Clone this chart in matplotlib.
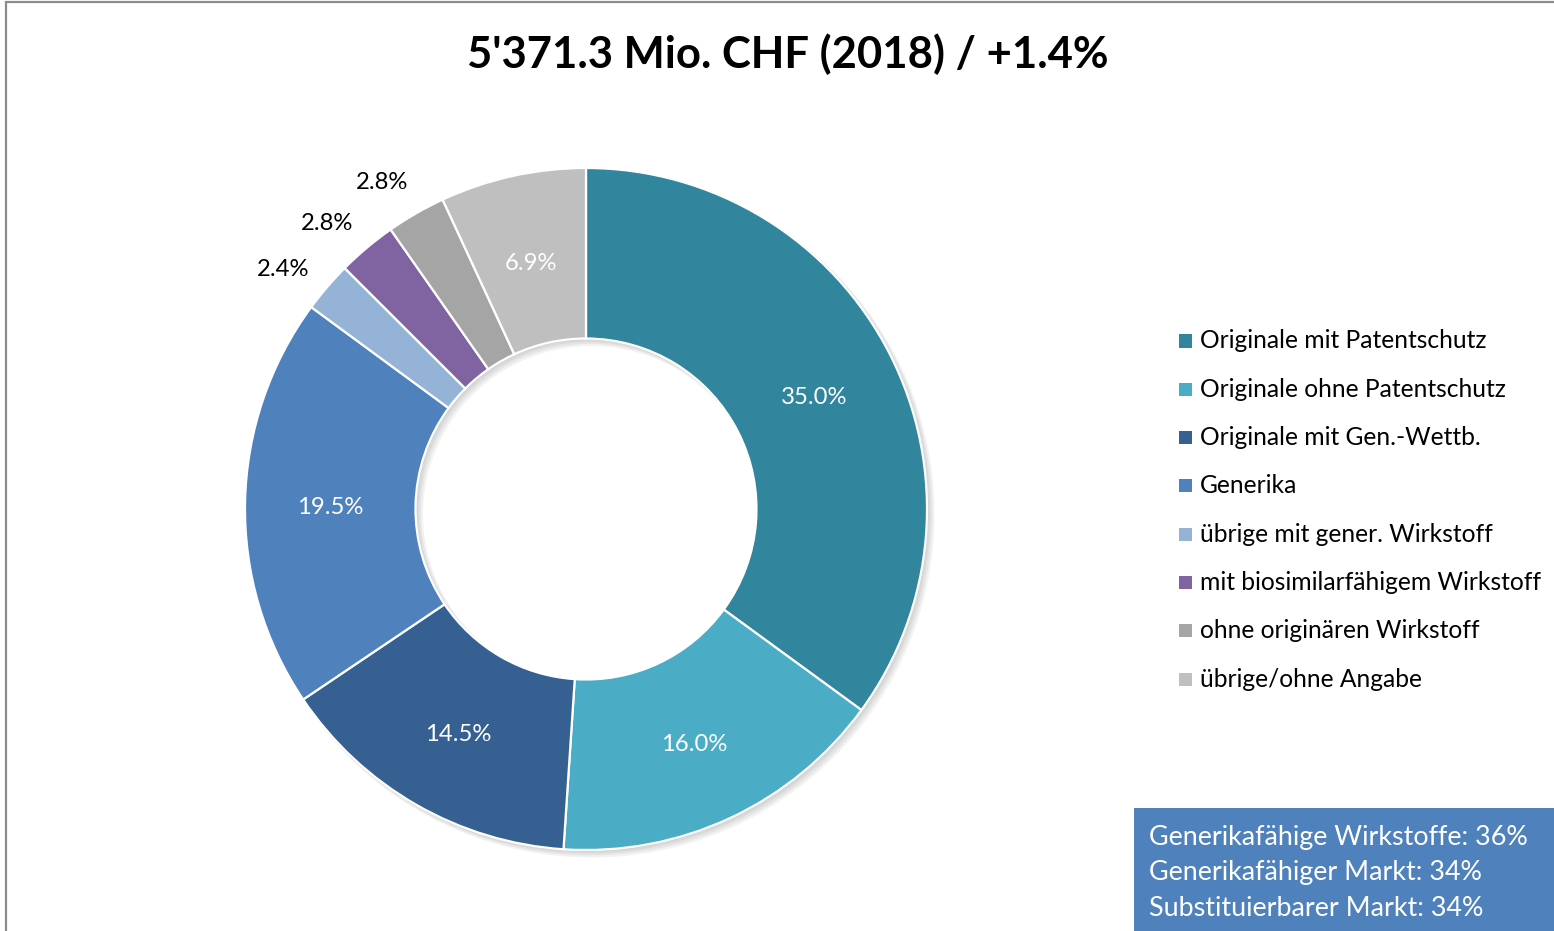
import matplotlib
matplotlib.use("Agg")
import matplotlib.pyplot as plt
from matplotlib.patches import Wedge, Rectangle
import matplotlib.transforms as mtransforms
import numpy as np

categories = ["Originale mit Patentschutz", "Originale ohne Patentschutz",
              "Originale mit Gen.-Wettb.", "Generika", "übrige mit gener. Wirkstoff",
              "mit biosimilarfähigem Wirkstoff", "ohne originären Wirkstoff",
              "übrige/ohne Angabe"]
shares = [35.0, 16.0, 14.5, 19.5, 2.4, 2.8, 2.8, 6.9]
colors = ["#31859C", "#4BACC6", "#366092", "#4F81BD", "#95B3D7", "#8064A2",
          "#A5A5A5", "#BFBFBF"]
outside = [False, False, False, False, True, True, True, False]
title = "5'371.3 Mio. CHF (2018) / +1.4%"
box_lines = ["Generikafähige Wirkstoffe: 36%", "Generikafähiger Markt: 34%",
             "Substituierbarer Markt: 34%"]

FONT = "Lato"
W, H = 1554, 931
fig = plt.figure(figsize=(W / 100, H / 100), dpi=100)

# frame
fig.add_artist(Rectangle((5.5 / W, -0.1), 2, 1.1 - 2.5 / H, transform=fig.transFigure,
                         fill=False, edgecolor="#8C8C8C", linewidth=1.6))

cx, cy, R = 586, 509, 341
ax = fig.add_axes([(cx - R) / W, (H - cy - R) / H, 2 * R / W, 2 * R / H])

wedges, _ = ax.pie(shares, colors=colors, startangle=90, counterclock=False,
                   radius=1.0, wedgeprops=dict(width=0.5, edgecolor="white", linewidth=1.6),
                   normalize=True)
ax.set_xlim(-1, 1)
ax.set_ylim(-1, 1)
ax.set_aspect("auto")
ax.axis("off")
for w in wedges:
    w.set_zorder(2)

# soft shadow
for i in range(4):
    off = 0.004 + 0.004 * i
    ax.add_patch(Wedge((off, -off), 1.0 + 0.002 * i, 0, 360, width=0.5 + 0.004 * i,
                       facecolor="black", alpha=0.05, edgecolor="none", zorder=0,
                       clip_on=False))

shift = mtransforms.offset_copy(ax.transData, fig=fig, x=0, y=-4, units="dots")
for w, v, out in zip(wedges, shares, outside):
    if out:
        ang = np.deg2rad((w.theta1 + w.theta2) / 2 + 1.8)
        r = 1.14
        col = "black"
    else:
        ang = np.deg2rad((w.theta1 + w.theta2) / 2)
        r = 0.75
        col = "white"
    ax.text(r * np.cos(ang), r * np.sin(ang), f"{v:.1f}%", ha="center", va="center",
            color=col, fontsize=17.2, family=FONT, clip_on=False, zorder=3,
            transform=shift)

fig.text(788 / W, 1 - 54 / H, title, ha="center", va="center", fontsize=31.4,
         fontweight="bold", family=FONT)

# legend
y0, dy = 341, 48.3
for i, (lab, c) in enumerate(zip(categories, colors)):
    y = y0 + i * dy
    fig.add_artist(Rectangle((1179 / W, 1 - (y + 6.5) / H), 13 / W, 13 / H,
                             transform=fig.transFigure, facecolor=c, edgecolor="none"))
    fig.text(1200 / W, 1 - y / H, lab, ha="left", va="center", fontsize=17.7, family=FONT)

# info box
fig.add_artist(Rectangle((1134 / W, 0), (W - 1134) / W, (H - 808) / H,
                         transform=fig.transFigure, facecolor="#4F81BD", edgecolor="none"))
for i, line in enumerate(box_lines):
    fig.text(1149 / W, 1 - (837 + 35.5 * i) / H, line, ha="left", va="center",
             fontsize=19.4, color="white", family=FONT)

fig.savefig("out.png", dpi=100)
